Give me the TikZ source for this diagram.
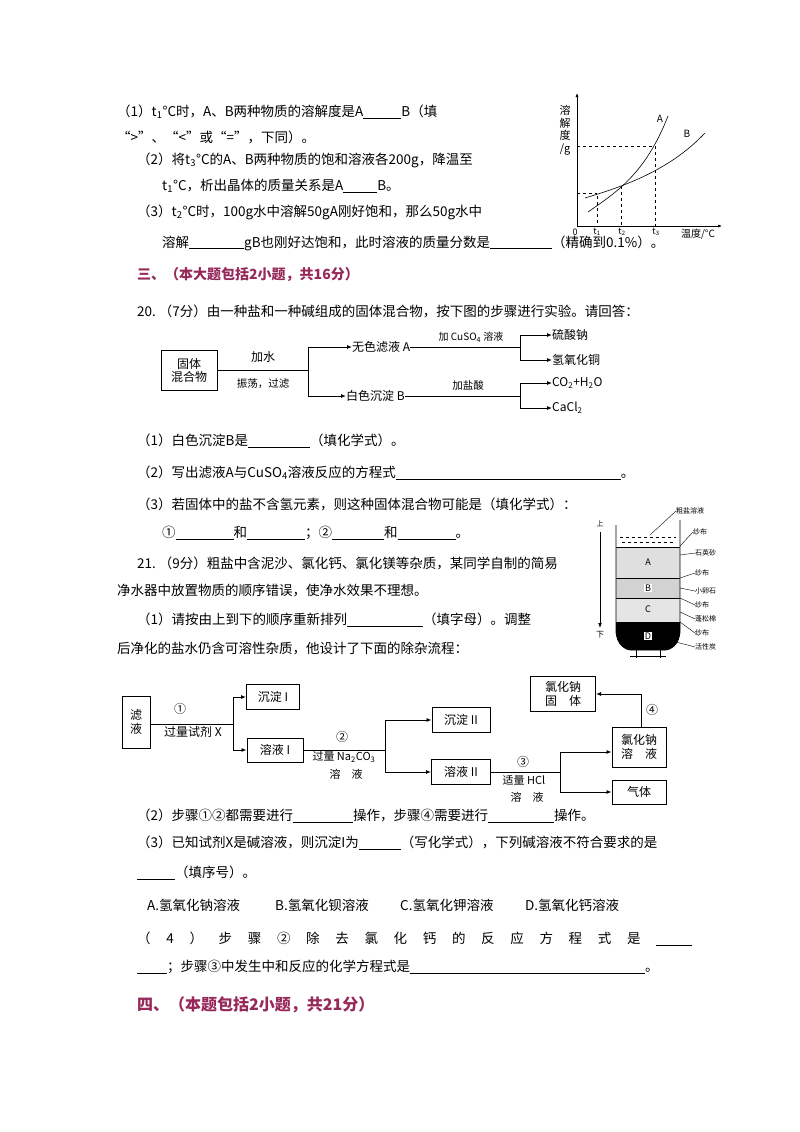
\documentclass[tikz,border=0pt]{standalone}
\usepackage{fontspec}
\setmainfont{Noto Sans CJK SC}
\usetikzlibrary{arrows.meta}
\definecolor{head}{RGB}{150,40,90}
\newcommand\blank[1]{\underline{\hspace{#1}}}
\begin{document}
\begin{tikzpicture}[x=1pt,y=-1pt,
  t/.style={anchor=west,inner sep=0pt,font=\fontsize{13.5}{15}\selectfont},
  s/.style={inner sep=0pt,font=\fontsize{12}{14}\selectfont},
  tiny/.style={inner sep=0pt,anchor=west,font=\fontsize{7}{8}\selectfont},
  bx/.style={draw,line width=1pt,inner sep=2pt,font=\fontsize{12}{14}\selectfont,align=center},
  ln/.style={line width=0.9pt},
  ar/.style={line width=0.9pt,-{Latex[length=5pt,width=4pt]}},
  hd/.style={anchor=west,inner sep=0pt,text=head,font=\bfseries\fontsize{14}{16}\selectfont}]
\useasboundingbox (0,0) rectangle (800,1132);
% question text part 1
\node[t] (l1) at (117,112) {（1）t\textsubscript{1}°C时，A、B两种物质的溶解度是A\blank{38pt}B（填};
\node[t] (l2) at (117,137) {“>”、“<”或“=”，下同）。};
\node[t] (l3) at (137,160) {（2）将t\textsubscript{3}°C的A、B两种物质的饱和溶液各200g，降温至};
\node[t] (l4) at (162,186) {t\textsubscript{1}°C，析出晶体的质量关系是A\blank{34pt}B。};
\node[t] (l5) at (137,212) {（3）t\textsubscript{2}°C时，100g水中溶解50gA刚好饱和，那么50g水中};
\node[t] (l6) at (162,243) {溶解\blank{55pt}gB也刚好达饱和，此时溶液的质量分数是\blank{62pt}（精确到0.1\%）。};
% graph
\draw[line width=0.7pt,-{Latex[length=4pt]}] (577,226) -- (722,226);
\draw[line width=0.7pt,-{Latex[length=4pt]}] (577,226) -- (577,93);
\node[s,align=center,font=\fontsize{11}{12.5}\selectfont] (gy) at (565,130) {溶\\解\\度\\/g};
\draw[dashed,line width=0.5pt] (577,146) -- (655,146) -- (655,226);
\draw[dashed,line width=0.5pt] (577,193) -- (597,193);
\draw[dashed,line width=0.5pt] (597,196) -- (597,226);
\draw[dashed,line width=0.5pt] (621,186) -- (621,226);
\draw[line width=0.6pt] (588,212) .. controls (615,193) and (645,175) .. (668,116);
\draw[line width=0.6pt] (585,198) .. controls (625,186) and (670,170) .. (705,133);
\node[s,font=\fontsize{10}{11}\selectfont] (la) at (660,119) {A};
\node[s,font=\fontsize{10}{11}\selectfont] (lb) at (687,134) {B};
\node[s,font=\fontsize{9}{10}\selectfont] (o) at (575,232) {0};
\node[s,font=\fontsize{9}{10}\selectfont] (t1) at (597,232) {t\textsubscript{1}};
\node[s,font=\fontsize{9}{10}\selectfont] (t2) at (622,232) {t\textsubscript{2}};
\node[s,font=\fontsize{9}{10}\selectfont] (t3) at (656,232) {t\textsubscript{3}};
\node[s,font=\fontsize{10}{11}\selectfont] (tl) at (698,234) {温度/°C};
% section 3
\node[hd] (h3) at (137,275) {三、（本大题包括2小题，共16分）};
\node[t] (q20) at (137,311) {20.\ （7分）由一种盐和一种碱组成的固体混合物，按下图的步骤进行实验。请回答：};
% flowchart 1
\node[draw,line width=0.8pt,inner sep=2pt,font=\fontsize{12}{13}\selectfont,align=center,minimum width=56pt,minimum height=40pt] (gt) at (189,370) {固体\\混合物};
\coordinate (j1) at (308,370);
\draw[ln] (gt) -- (j1);
\node[s] (jiashui) at (263,357) {加水};
\node[s,font=\fontsize{10.5}{12}\selectfont] (zd) at (263,384) {振荡，过滤};
\node[s,anchor=west] (A) at (352,347) {无色滤液 A};
\node[s,anchor=west] (B) at (346,396) {白色沉淀 B};
\draw[ar] (j1) -- (308,347) -- (A.west);
\draw[ar] (j1) -- (308,396) -- (B.west);
\coordinate (j2) at (520,347);
\draw[ln] (A.east) -- (j2);
\node[s,font=\fontsize{10}{11}\selectfont] (cuso) at (471,337) {加 CuSO\textsubscript{4} 溶液};
\node[s,anchor=west] (na) at (552,335) {硫酸钠};
\node[s,anchor=west] (cu) at (552,360) {氢氧化铜};
\draw[ar] (j2) -- (520,335) -- (na.west);
\draw[ar] (j2) -- (520,360) -- (cu.west);
\coordinate (j3) at (520,396);
\draw[ln] (B.east) -- (j3);
\node[s,font=\fontsize{10.5}{12}\selectfont] (hcl) at (468,386) {加盐酸};
\node[s,anchor=west] (co) at (552,383) {CO\textsubscript{2}+H\textsubscript{2}O};
\node[s,anchor=west] (cacl) at (552,408) {CaCl\textsubscript{2}};
\draw[ar] (j3) -- (520,383) -- (co.west);
\draw[ar] (j3) -- (520,408) -- (cacl.west);
% questions 20
\node[t] (q1) at (137,441) {（1）白色沉淀B是\blank{62pt}（填化学式）。};
\node[t] (q2) at (137,473) {（2）写出滤液A与CuSO\textsubscript{4}溶液反应的方程式\blank{225pt}。};
\node[t] (q3) at (137,504) {（3）若固体中的盐不含氢元素，则这种固体混合物可能是（填化学式）：};
\node[t] (q3b) at (162,533) {①\blank{58pt}和\blank{58pt}；②\blank{52pt}和\blank{58pt}。};
\node[t] (q21) at (137,563) {21.\ （9分）粗盐中含泥沙、氯化钙、氯化镁等杂质，某同学自制的简易};
\node[t] (q21b) at (117,591) {净水器中放置物质的顺序错误，使净水效果不理想。};
\node[t] (q21c) at (137,620) {（1）请按由上到下的顺序重新排列\blank{24pt}\blank{38pt}\blank{14pt}（填字母）。调整};
\node[t] (q21d) at (117,648) {后净化的盐水仍含可溶性杂质，他设计了下面的除杂流程：};
% filter
\fill[gray!25] (616,547) rectangle (680,578);
\fill[gray!35] (616,578) rectangle (680,598);
\fill[gray!20] (616,598) rectangle (680,622);
\fill[black] (616,622) -- (680,622) -- (680,630) .. controls (680,645) and (670,650) .. (665,650) -- (631,650) .. controls (626,650) and (616,645) .. (616,630) -- cycle;
\draw[line width=0.8pt] (616,525) -- (616,630) .. controls (616,645) and (626,650) .. (631,650) -- (665,650) .. controls (670,650) and (680,645) .. (680,630) -- (680,520);
\draw[line width=0.5pt] (616,547) -- (680,547) (616,578) -- (680,578) (616,598) -- (680,598);
\draw[dashed,line width=0.4pt] (620,537) -- (676,537) (622,542) -- (674,542);
\node[s,font=\fontsize{9}{10}\selectfont] (fa) at (648,562) {A};
\node[s,font=\fontsize{9}{10}\selectfont,fill=white,inner sep=1pt] (fb) at (648,588) {B};
\node[s,font=\fontsize{9}{10}\selectfont] (fc) at (648,609) {C};
\node[s,font=\fontsize{9}{10}\selectfont,fill=white,inner sep=1pt] (fd) at (648,636) {D};
\draw[line width=1pt] (636,650) -- (636,658) (660,650) -- (660,658) (630,656) -- (666,656);
\draw[line width=0.7pt,-{Latex[length=5pt]}] (600,532) -- (600,628);
\node[s,font=\fontsize{7}{8}\selectfont] (up) at (600,524) {上};
\node[s,font=\fontsize{8}{9}\selectfont] (dn) at (600,635) {下};
\node[tiny] (c1) at (676,511) {粗盐溶液};
\node[tiny] (c2) at (693,532) {纱布};
\node[tiny] (c3) at (695,553) {石英砂};
\node[tiny] (c4) at (695,573) {纱布};
\node[tiny] (c5) at (695,591) {小卵石};
\node[tiny] (c6) at (695,605) {纱布};
\node[tiny] (c7) at (695,619) {蓬松棉};
\node[tiny] (c8) at (695,633) {纱布};
\node[tiny] (c9) at (695,647) {活性炭};
\draw[line width=0.4pt] (c1.west) -- (650,535);
\draw[line width=0.4pt] (c2.west) -- (680,546);
\draw[line width=0.4pt] (c3.west) -- (680,555);
\draw[line width=0.4pt] (c4.west) -- (680,578);
\draw[line width=0.4pt] (c5.west) -- (680,588);
\draw[line width=0.4pt] (c6.west) -- (680,598);
\draw[line width=0.4pt] (c7.west) -- (680,612);
\draw[line width=0.4pt] (c8.west) -- (680,622);
\draw[line width=0.4pt] (c9.west) -- (676,642);
% flowchart 2
\node[bx,minimum width=28pt,minimum height=52pt] (lv) at (136,722) {滤\\液};
\node[bx,minimum width=53pt,minimum height=25pt] (cd1) at (273,697) {沉淀 I};
\node[bx,minimum width=56pt,minimum height=24pt] (ry1) at (275,750) {溶液 I};
\node[bx,minimum width=58pt,minimum height=25pt] (cd2) at (461,720) {沉淀 II};
\node[bx,minimum width=59pt,minimum height=25pt] (ry2) at (461,772) {溶液 II};
\node[bx,minimum width=54pt,minimum height=40pt] (nacl) at (639,747) {氯化钠\\溶\quad 液};
\node[bx,minimum width=54pt,minimum height=24pt] (qt) at (639,792) {气体};
\node[bx,minimum width=65pt,minimum height=35pt] (gs) at (563,694) {氯化钠\\固\quad 体};
\coordinate (k1) at (233,724);
\draw[ln] (lv.east |- k1) -- (k1);
\draw[ar] (k1) -- (233,697) -- (cd1.west);
\draw[ar] (k1) -- (233,750) -- (ry1.west);
\node[s] (n1) at (180,709) {①};
\node[s] (x1) at (193,732) {过量试剂 X};
\coordinate (k2) at (385,750);
\draw[ln] (ry1.east) -- (k2);
\draw[ar] (k2) -- (385,720) -- (cd2.west);
\draw[ar] (k2) -- (385,772) -- (ry2.west);
\node[s] (n2) at (342,737) {②};
\node[s,font=\fontsize{11}{12}\selectfont] (x2) at (344,757) {过量 Na\textsubscript{2}CO\textsubscript{3}};
\node[s,font=\fontsize{11}{12}\selectfont] (x2b) at (346,774) {溶\quad 液};
\coordinate (k3) at (560,772);
\draw[ln] (ry2.east) -- (k3);
\draw[ar] (k3) -- (560,752) -- (nacl.west |- 0,752);
\draw[ar] (k3) -- (560,792) -- (qt.west);
\node[s] (n3) at (523,762) {③};
\node[s,font=\fontsize{11}{12}\selectfont] (x3) at (524,780) {适量 HCl};
\node[s,font=\fontsize{11}{12}\selectfont] (x3b) at (527,797) {溶\quad 液};
\draw[ar] (nacl.north -| 641,0) -- (641,694) -- (gs.east);
\node[s] (n4) at (652,710) {④};
% remaining questions
\node[t] (r2) at (137,816) {（2）步骤①②都需要进行\blank{60pt}操作，步骤④需要进行\blank{66pt}操作。};
\node[t] (r3) at (137,843) {（3）已知试剂X是碱溶液，则沉淀I为\blank{42pt}（写化学式），下列碱溶液不符合要求的是};
\node[t] (r3b) at (137,873) {\blank{38pt}（填序号）。};
\node[t] (oa) at (147,905) {A.氢氧化钠溶液};
\node[t] (ob) at (275,905) {B.氢氧化钡溶液};
\node[t] (oc) at (400,905) {C.氢氧化钾溶液};
\node[t] (od) at (525,905) {D.氢氧化钙溶液};
\node[t,text width=555pt,align=justify] (r4) at (137,939) {（\hfill 4\hfill ）\hfill 步\hfill 骤\hfill ②\hfill 除\hfill 去\hfill 氯\hfill 化\hfill 钙\hfill 的\hfill 反\hfill 应\hfill 方\hfill 程\hfill 式\hfill 是\hfill \blank{36pt}};
\node[t] (r4b) at (137,967) {\blank{30pt}；步骤③中发生中和反应的化学方程式是\blank{235pt}。};
\node[hd,font=\bfseries\fontsize{16}{18}\selectfont] (h4) at (137,1005) {四、（本题包括2小题，共21分）};
\end{tikzpicture}
\end{document}
